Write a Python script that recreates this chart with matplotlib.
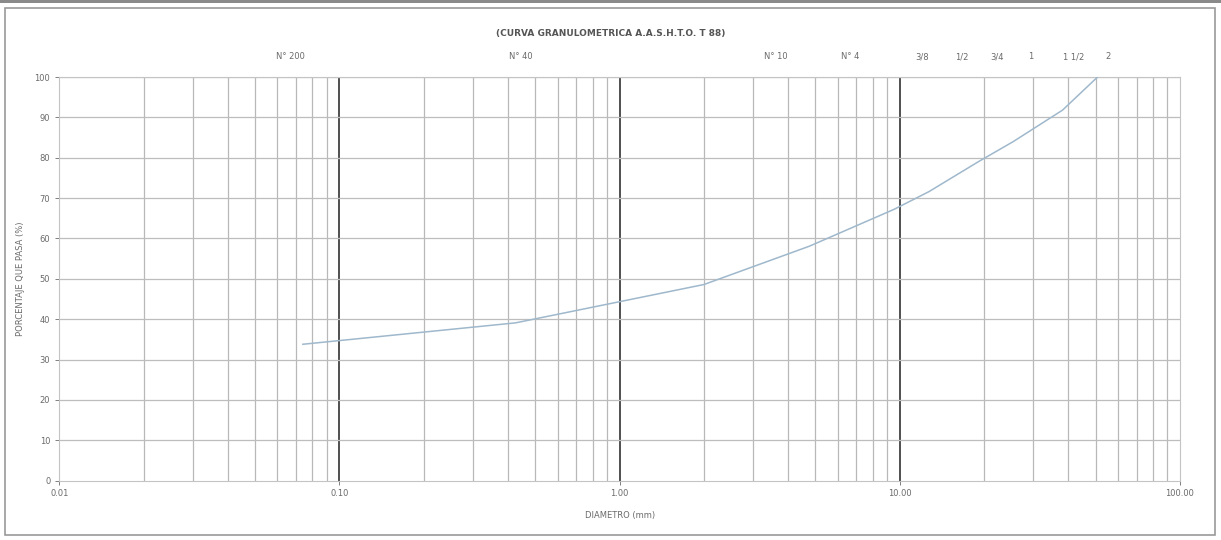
import matplotlib
matplotlib.use("Agg")
import matplotlib.pyplot as plt
from matplotlib.patches import Rectangle
from matplotlib.ticker import FixedLocator, NullFormatter

# Sieve openings (mm) and percentage passing
sieve_mm = [50.8, 38.1, 25.4, 19.05, 12.7, 9.525, 4.76, 2.0, 0.425, 0.074]
passing = [100.0, 91.8, 84.0, 79.0, 71.6, 67.2, 58.1, 48.6, 39.1, 33.8]

# Sieve names shown above the chart and where their text sits (mm)
sieve_names = ["N° 200", "N° 40", "N° 10", "N° 4", "3/8", "1/2", "3/4", "1", "1 1/2", "2"]
name_pos_mm = [0.0667, 0.442, 3.60, 6.66, 12.06, 16.7, 22.3, 29.3, 41.7, 55.2]

x_ticks = [0.01, 0.1, 1.0, 10.0, 100.0]
x_tick_labels = ["0.01", "0.10", "1.00", "10.00", "100.00"]
y_ticks = list(range(0, 101, 10))

fig = plt.figure(figsize=(12.21, 5.40), dpi=100)
fig.patch.set_facecolor("white")

# outer sheet frame
fig.patches.append(Rectangle((0.004, 0.01), 0.991, 0.975, transform=fig.transFigure,
                             fill=False, edgecolor="#9a9a9a", linewidth=1.2))
fig.patches.append(Rectangle((0.0, 0.994), 1.0, 0.006, transform=fig.transFigure,
                             facecolor="#8a8a8a", edgecolor="none"))

ax = fig.add_axes([0.0486, 0.1098, 0.9178, 0.7476])
ax.set_xscale("log")
ax.set_xlim(0.01, 100)
ax.set_ylim(0, 100)

# grid: minor decades light, major decades dark
minor = [m * 10.0 ** e for e in range(-2, 2) for m in range(2, 10)]
for xv in minor:
    ax.axvline(xv, color="#b8b8b8", linewidth=0.9, zorder=1)
for xv in x_ticks[1:-1]:
    ax.axvline(xv, color="#505050", linewidth=1.4, zorder=1)
for yv in y_ticks[1:]:
    ax.axhline(yv, color="#bdbdbd", linewidth=0.9, zorder=1)

ax.plot(sieve_mm, passing, color="#9fb8cc", linewidth=1.1, zorder=3)

ax.xaxis.set_major_locator(FixedLocator(x_ticks))
ax.set_xticklabels(x_tick_labels)
ax.xaxis.set_minor_formatter(NullFormatter())
ax.xaxis.set_minor_locator(FixedLocator([]))
ax.set_yticks(y_ticks)
ax.tick_params(axis="both", labelsize=6, colors="#6a6a6a", length=3, width=0.6)
ax.tick_params(axis="x", pad=3)
for s in ax.spines.values():
    s.set_color("#c4c4c4")
    s.set_linewidth(0.8)

ax.set_xlabel("DIAMETRO (mm)", fontsize=6, color="#6a6a6a", labelpad=9)
ax.set_ylabel("PORCENTAJE QUE PASA (%)", fontsize=6, color="#6a6a6a", labelpad=7)

for name, xp in zip(sieve_names, name_pos_mm):
    ax.text(xp, 105.0, name, fontsize=6, color="#6a6a6a", ha="center", va="center")

fig.text(0.5, 0.938, "(CURVA GRANULOMETRICA A.A.S.H.T.O. T 88)", fontsize=6.5,
         fontweight="bold", color="#555555", ha="center", va="center")

fig.savefig("out.png", dpi=100, facecolor="white")
